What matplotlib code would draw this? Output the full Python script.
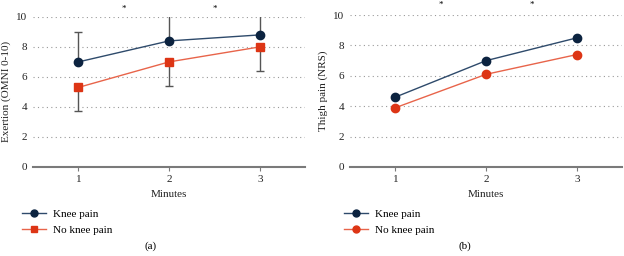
import matplotlib.pyplot as plt
from matplotlib.lines import Line2D

plt.rcParams['font.family'] = ['Liberation Serif', 'DejaVu Serif']
plt.rcParams['font.size'] = 8

minutes = [1, 2, 3]
yticks = [0, 2, 4, 6, 8, 10]

# (a) exertion
exertion_knee = [7.0, 8.4, 8.8]
exertion_knee_err = [2.0, 1.8, 1.5]
exertion_noknee = [5.3, 7.0, 8.0]
exertion_noknee_err = [1.6, 1.6, 1.6]

# (b) thigh pain
thigh_knee = [4.6, 7.0, 8.5]
thigh_noknee = [3.9, 6.1, 7.4]

star_x = [1.5, 2.5]

navy = '#0c2340'
navy_line = '#2e4a6b'
red = '#dd3515'
red_line = '#e8644a'
gray = '#7a7a7a'

fig = plt.figure(figsize=(6.24, 2.56), dpi=100)
ax1 = fig.add_axes([0.053, 0.348, 0.436, 0.586])
ax2 = fig.add_axes([0.561, 0.348, 0.436, 0.593])


def style(ax, ylabel):
    ax.set_xlim(0.5, 3.5)
    ax.set_ylim(0, 10)
    ax.set_yticks(yticks)
    ax.set_xticks(minutes)
    for s in ['top', 'right', 'left']:
        ax.spines[s].set_visible(False)
    ax.spines['bottom'].set_color(gray)
    ax.spines['bottom'].set_linewidth(1.5)
    ax.grid(axis='y', linestyle=(0, (1, 3)), color='#999999', linewidth=0.8)
    ax.set_axisbelow(True)
    ax.tick_params(axis='y', length=0, pad=4, colors='#222222')
    ax.tick_params(axis='x', length=3, color=gray, pad=3, colors='#222222')
    ax.set_xlabel('Minutes', labelpad=4, color='#222222')
    ax.set_ylabel(ylabel, labelpad=4, color='#222222')


# panel (a)
style(ax1, 'Exertion (OMNI 0-10)')
ax1.errorbar(minutes, exertion_knee, yerr=[[0, 0, 0], exertion_knee_err],
             fmt='none', ecolor='#555555', elinewidth=1, capsize=3, zorder=2)
ax1.errorbar(minutes, exertion_noknee, yerr=[exertion_noknee_err, [0, 0, 0]],
             fmt='none', ecolor='#555555', elinewidth=1, capsize=3, zorder=2)
ax1.plot(minutes, exertion_knee, color=navy_line, lw=1, zorder=3)
ax1.plot(minutes, exertion_knee, 'o', color=navy, ms=6, zorder=4)
ax1.plot(minutes, exertion_noknee, color=red_line, lw=1, zorder=3)
ax1.plot(minutes, exertion_noknee, 's', color=red, ms=6, zorder=4)
for x in star_x:
    ax1.text(x, 10.55, '*', ha='center', va='center', fontsize=6.5, clip_on=False)

# panel (b)
style(ax2, 'Thigh pain (NRS)')
ax2.plot(minutes, thigh_knee, color=navy_line, lw=1, zorder=3)
ax2.plot(minutes, thigh_knee, 'o', color=navy, ms=6, zorder=4)
ax2.plot(minutes, thigh_noknee, color=red_line, lw=1, zorder=3)
ax2.plot(minutes, thigh_noknee, 'o', color=red, ms=6, zorder=4)
for x in star_x:
    ax2.text(x, 10.65, '*', ha='center', va='center', fontsize=6.5, clip_on=False)

# legends
h_a = [Line2D([], [], color=navy_line, lw=1, marker='o', mfc=navy, mec=navy, ms=5),
       Line2D([], [], color=red_line, lw=1, marker='s', mfc=red, mec=red, ms=5)]
h_b = [Line2D([], [], color=navy_line, lw=1, marker='o', mfc=navy, mec=navy, ms=5),
       Line2D([], [], color=red_line, lw=1, marker='o', mfc=red, mec=red, ms=5)]
labels = ['Knee pain', 'No knee pain']
fig.legend(h_a, labels, loc='upper left', bbox_to_anchor=(0.035, 0.183),
           frameon=False, handlelength=2.2, handletextpad=0.6, labelspacing=0.6,
           borderaxespad=0, borderpad=0)
fig.legend(h_b, labels, loc='upper left', bbox_to_anchor=(0.551, 0.183),
           frameon=False, handlelength=2.2, handletextpad=0.6, labelspacing=0.6,
           borderaxespad=0, borderpad=0)

fig.text(151 / 624, 1 - 246 / 256, '(a)', ha='center', va='center')
fig.text(465 / 624, 1 - 246 / 256, '(b)', ha='center', va='center')

fig.savefig('out.png', dpi=100)
